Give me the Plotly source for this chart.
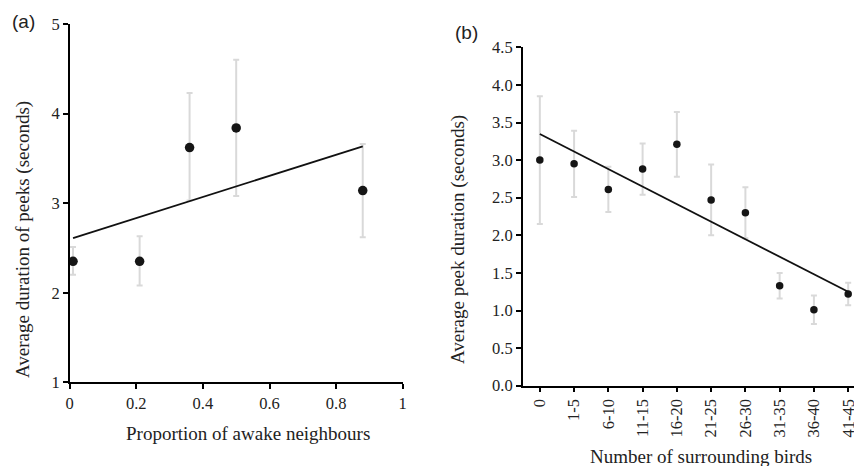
import numpy as np
import plotly.graph_objects as go

# ---- Panel (a) data ----
prop_awake = [0.01, 0.21, 0.36, 0.50, 0.88]
peek_dur_a = [2.35, 2.35, 3.62, 3.84, 3.14]
err_up_a = [0.16, 0.28, 0.61, 0.76, 0.52]
err_dn_a = [0.15, 0.27, 0.59, 0.76, 0.52]

# ---- Panel (b) data ----
bird_groups = ["0", "1-5", "6-10", "11-15", "16-20", "21-25", "26-30", "31-35", "36-40", "41-45"]
peek_dur_b = [3.00, 2.95, 2.61, 2.88, 3.21, 2.47, 2.30, 1.33, 1.01, 1.22]
err_up_b = [0.85, 0.44, 0.30, 0.34, 0.43, 0.47, 0.34, 0.17, 0.19, 0.15]
err_dn_b = [0.85, 0.44, 0.30, 0.34, 0.43, 0.47, 0.34, 0.17, 0.19, 0.15]

yticks_a = [1, 2, 3, 4, 5]
xticks_a = [0, 0.2, 0.4, 0.6, 0.8, 1]
yticks_b = [0.0, 0.5, 1.0, 1.5, 2.0, 2.5, 3.0, 3.5, 4.0, 4.5]

W, H = 854, 466
def fx(px):
    return px / W
def fy(py):
    return 1 - py / H

SERIF = "Liberation Serif"
SANS = "Liberation Sans"
ERR_COL = "#d9d9d9"
DOT_COL = "#151515"
TXT_COL = "#222222"

# linear trend lines (least squares, as in the original figure)
sa, ia = np.polyfit(prop_awake, peek_dur_a, 1)
trend_a_x = [prop_awake[0], prop_awake[-1]]
trend_a_y = [ia + sa * v for v in trend_a_x]

idx_b = np.arange(len(bird_groups))
sb, ib = np.polyfit(idx_b, peek_dur_b, 1)
trend_b_x = [bird_groups[0], bird_groups[-1]]
trend_b_y = [ib, ib + sb * (len(bird_groups) - 1)]

fig = go.Figure()

fig.add_trace(go.Scatter(
    x=prop_awake, y=peek_dur_a, mode="markers",
    marker=dict(size=9.5, color=DOT_COL),
    error_y=dict(type="data", array=err_up_a, arrayminus=err_dn_a,
                 color=ERR_COL, thickness=2, width=3),
    xaxis="x", yaxis="y", cliponaxis=False, showlegend=False))
fig.add_trace(go.Scatter(
    x=trend_a_x, y=trend_a_y, mode="lines",
    line=dict(color="#111111", width=1.8),
    xaxis="x", yaxis="y", showlegend=False))

fig.add_trace(go.Scatter(
    x=bird_groups, y=peek_dur_b, mode="markers",
    marker=dict(size=7.5, color=DOT_COL),
    error_y=dict(type="data", array=err_up_b, arrayminus=err_dn_b,
                 color=ERR_COL, thickness=2, width=3),
    xaxis="x2", yaxis="y2", cliponaxis=False, showlegend=False))
fig.add_trace(go.Scatter(
    x=trend_b_x, y=trend_b_y, mode="lines",
    line=dict(color="#111111", width=1.8),
    xaxis="x2", yaxis="y2", showlegend=False))

TICKFONT = dict(family=SERIF, size=16.5, color=TXT_COL)
axis_common = dict(showline=True, linecolor="black", linewidth=1.5,
                   ticks="outside", ticklen=5, tickwidth=1.5, tickcolor="black",
                   showgrid=False, zeroline=False, automargin=False)

fig.update_layout(
    template="none",
    width=W, height=H,
    font=dict(family=SERIF, size=16.5, color=TXT_COL),
    margin=dict(l=0, r=0, t=0, b=0, autoexpand=False),
    paper_bgcolor="white", plot_bgcolor="white",
    xaxis=dict(domain=[fx(69.7), fx(402.7)], range=[0, 1], tickvals=xticks_a,
               ticktext=[("%g" % v) for v in xticks_a], anchor="y", **axis_common),
    yaxis=dict(domain=[fy(382.3), fy(24)], range=[1, 5], tickvals=yticks_a,
               anchor="x", **axis_common),
    xaxis2=dict(domain=[fx(522.7), 1.0], type="category", range=[-0.5, 9.17],
                tickangle=-90, anchor="y2", **axis_common),
    yaxis2=dict(domain=[fy(385.7), fy(47.3)], range=[0, 4.5], tickvals=yticks_b,
                tickformat=".1f", anchor="x2", **axis_common),
)
fig.update_xaxes(tickfont=TICKFONT)
fig.update_yaxes(tickfont=TICKFONT)

ann = [
    dict(text="(a)", x=fx(23), y=fy(22), font=dict(family=SANS, size=19, color=TXT_COL)),
    dict(text="(b)", x=fx(466), y=fy(33), font=dict(family=SANS, size=19, color=TXT_COL)),
    dict(text="Proportion of awake neighbours", x=fx(248), y=fy(433),
         font=dict(family=SERIF, size=19, color=TXT_COL)),
    dict(text="Number of surrounding birds", x=fx(701), y=fy(456),
         font=dict(family=SERIF, size=19, color=TXT_COL)),
    dict(text="Average duration of peeks (seconds)", x=fx(23), y=fy(240), textangle=-90,
         font=dict(family=SERIF, size=19, color=TXT_COL)),
    dict(text="Average peek duration (seconds)", x=fx(458), y=fy(240), textangle=-90,
         font=dict(family=SERIF, size=19, color=TXT_COL)),
]
for a in ann:
    a.update(xref="paper", yref="paper", xanchor="center", yanchor="middle", showarrow=False)
fig.update_layout(annotations=ann)

fig.write_html(
    "out.html",
    config={"displayModeBar": False},
    post_script="document.body.style.margin='0';document.body.style.padding='0';",
)
